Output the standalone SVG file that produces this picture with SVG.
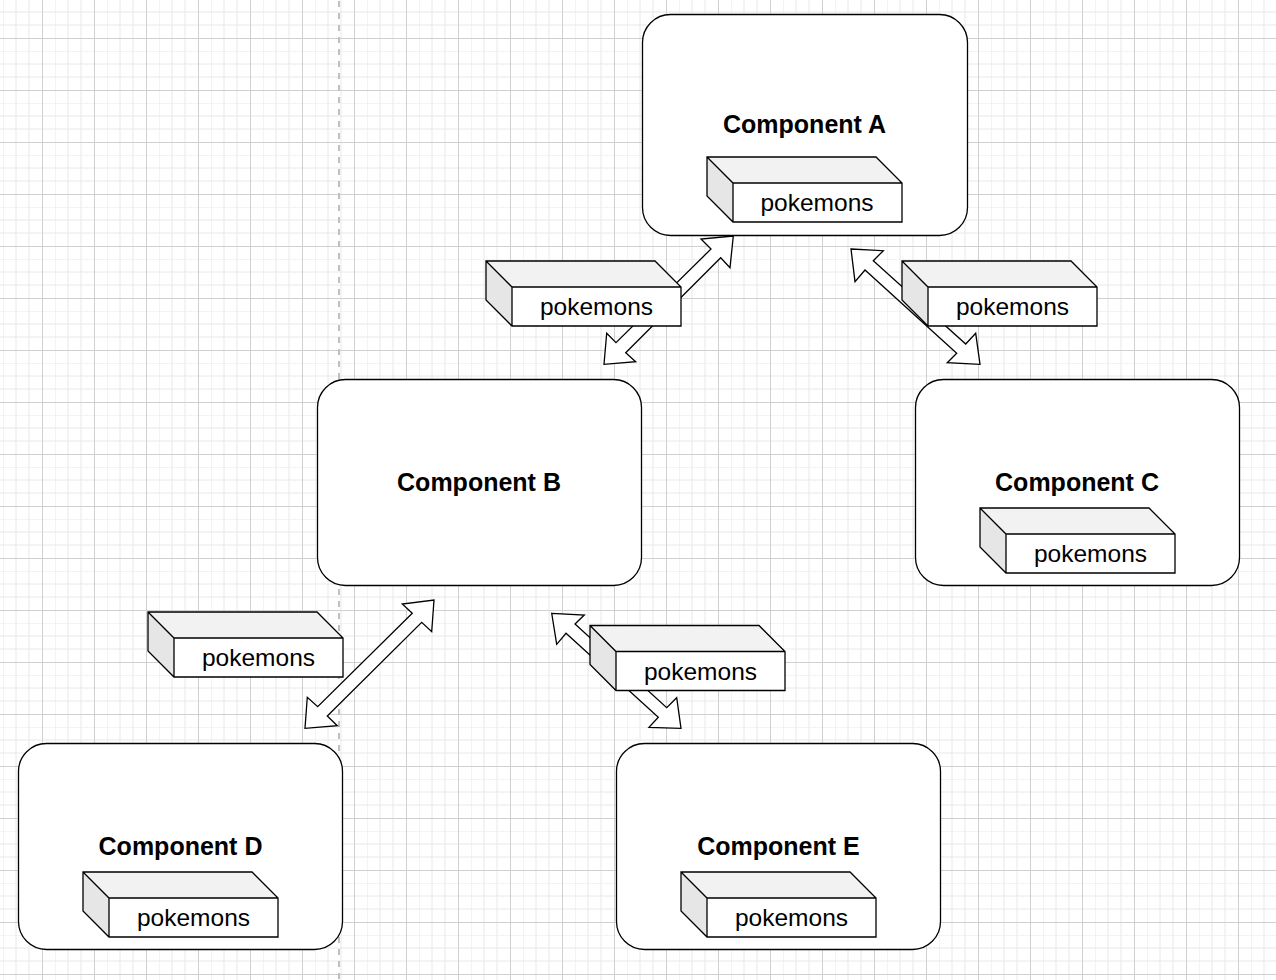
<svg xmlns="http://www.w3.org/2000/svg" xmlns:xlink="http://www.w3.org/1999/xlink" width="1276" height="980" viewBox="0 0 1276 980">
  <style>
    .node { fill: #ffffff; stroke: #000000; stroke-width: 1.3; }
    .title { font-family: "Liberation Sans", Helvetica, Arial, sans-serif; font-size: 25px; font-weight: bold; fill: #000000; text-anchor: middle; }
    .lbl { font-family: "Liberation Sans", Helvetica, Arial, sans-serif; font-size: 24.5px; fill: #000000; text-anchor: middle; }
    .arrow { fill: #ffffff; stroke: #000000; stroke-width: 1.3; stroke-linejoin: miter; }
    .cube-top { fill: #f2f2f2; stroke: none; }
    .cube-side { fill: #e6e6e6; stroke: none; }
    .cube-line { fill: none; stroke: #000000; stroke-width: 1.3; stroke-linejoin: miter; }
  </style>
  <defs>
    <pattern id="grid" patternUnits="userSpaceOnUse" x="3" y="-1" width="52" height="52">
      <path d="M0,0 V52 M13,0 V52 M26,0 V52 M0,0 H52 M0,13 H52 M0,26 H52" fill="none" stroke="#e8e8e8" stroke-width="1"/>
      <path d="M39.5,0 V52 M0,39.5 H52" fill="none" stroke="#d0d0d0" stroke-width="1"/>
    </pattern>
    <g id="cube">
      <rect x="26" y="26" width="169" height="39" fill="#ffffff"/>
      <path class="cube-top" d="M0,0 L169,0 L195,26 L26,26 Z"/>
      <path class="cube-side" d="M0,0 L26,26 L26,65 L0,39 Z"/>
      <path class="cube-line" d="M0,0 L169,0 L195,26 L195,65 L26,65 L0,39 Z M0,0 L26,26 L195,26 M26,26 L26,65"/>
    </g>
  </defs>

  <rect x="0" y="0" width="1276" height="980" fill="#ffffff"/>
  <rect x="0" y="0" width="1276" height="980" fill="url(#grid)"/>
  <line x1="339" y1="1" x2="339" y2="980" stroke="#c0c0c0" stroke-width="2" stroke-dasharray="6 6"/>

  <g id="connectors">
    <polygon class="arrow" points="733.3,236 701,239 711,249 616,342.7 606.7,333.3 604,364.3 635.7,361.7 625.7,352.7 720.7,257.7 730,267.7"/>
    <polygon class="arrow" points="851,249 883.3,250.7 873.3,260.7 965.7,344 975.7,333.3 980,364.3 947.3,362.7 956.7,353.3 865,270 855,281.7"/>
    <polygon class="arrow" points="434,600 431.7,631.7 421.7,622.3 327.3,716 337.3,725.7 305,728.3 307.3,697.3 317.7,706.7 412.3,613.3 402.3,604"/>
    <polygon class="arrow" points="551.7,613.3 584.3,615 575,624 666.7,707.7 676.7,697.7 681,728.3 649,727.3 658.3,717.3 566,633.3 556.7,644.3"/>
  </g>

  <g id="edge-label-ab">
    <use xlink:href="#cube" href="#cube" x="486" y="261"/>
    <text class="lbl" x="596.5" y="315">pokemons</text>
  </g>
  <g id="edge-label-ac">
    <use xlink:href="#cube" href="#cube" x="902" y="261"/>
    <text class="lbl" x="1012.5" y="315">pokemons</text>
  </g>
  <g id="edge-label-bd">
    <use xlink:href="#cube" href="#cube" x="148" y="612"/>
    <text class="lbl" x="258.5" y="666">pokemons</text>
  </g>
  <g id="edge-label-be">
    <use xlink:href="#cube" href="#cube" x="590" y="625.5"/>
    <text class="lbl" x="700.5" y="679.5">pokemons</text>
  </g>

  <g id="component-a">
    <rect class="node" x="642.5" y="14.5" width="325" height="221" rx="28" ry="28"/>
    <text class="title" x="804.5" y="133">Component A</text>
    <use xlink:href="#cube" href="#cube" x="707" y="157"/>
    <text class="lbl" x="817" y="211">pokemons</text>
  </g>

  <g id="component-b">
    <rect class="node" x="317.5" y="379.5" width="324" height="206" rx="28" ry="28"/>
    <text class="title" x="479" y="491">Component B</text>
  </g>

  <g id="component-c">
    <rect class="node" x="915.5" y="379.5" width="324" height="206" rx="28" ry="28"/>
    <text class="title" x="1077" y="491">Component C</text>
    <use xlink:href="#cube" href="#cube" x="980" y="508"/>
    <text class="lbl" x="1090.5" y="562">pokemons</text>
  </g>

  <g id="component-d">
    <rect class="node" x="18.5" y="743.5" width="324" height="206" rx="28" ry="28"/>
    <text class="title" x="180.5" y="855">Component D</text>
    <use xlink:href="#cube" href="#cube" x="83" y="872"/>
    <text class="lbl" x="193.5" y="926">pokemons</text>
  </g>

  <g id="component-e">
    <rect class="node" x="616.5" y="743.5" width="324" height="206" rx="28" ry="28"/>
    <text class="title" x="778.5" y="855">Component E</text>
    <use xlink:href="#cube" href="#cube" x="681" y="872"/>
    <text class="lbl" x="791.5" y="926">pokemons</text>
  </g>
</svg>
